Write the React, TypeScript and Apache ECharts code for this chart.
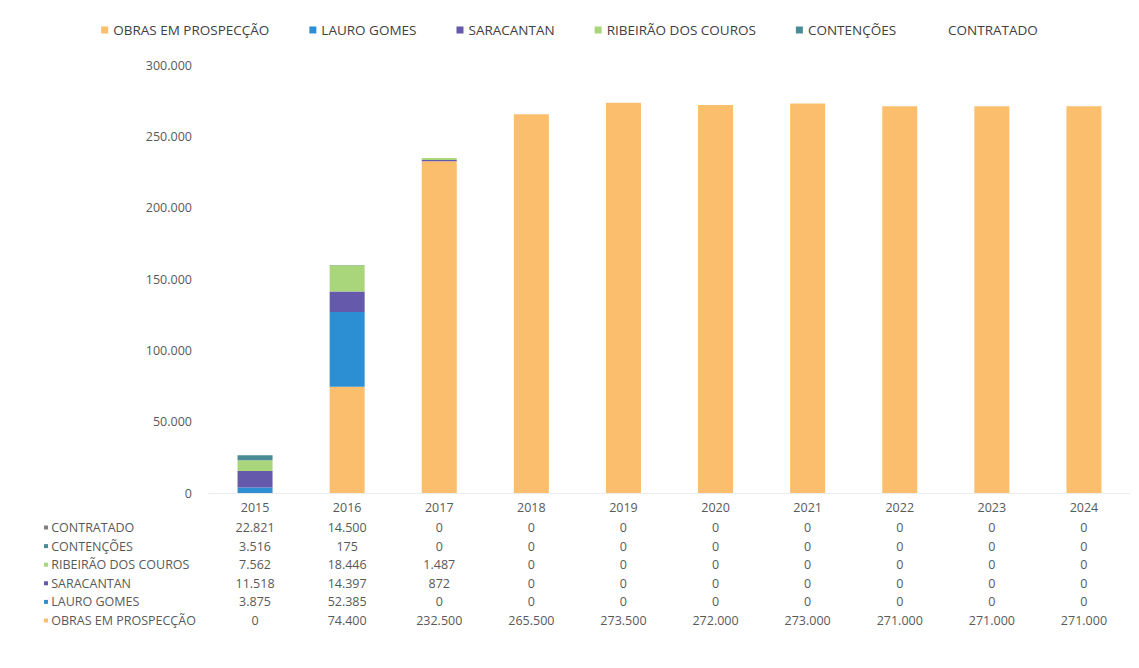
import React, { useEffect, useRef } from "react";
import * as echarts from "echarts";

const years = ["2015", "2016", "2017", "2018", "2019", "2020", "2021", "2022", "2023", "2024"];
const obrasEmProspeccao = [0, 74400, 232500, 265500, 273500, 272000, 273000, 271000, 271000, 271000];
const lauroGomes = [3875, 52385, 0, 0, 0, 0, 0, 0, 0, 0];
const saracantan = [11518, 14397, 872, 0, 0, 0, 0, 0, 0, 0];
const ribeiraoDosCouros = [7562, 18446, 1487, 0, 0, 0, 0, 0, 0, 0];
const contencoes = [3516, 175, 0, 0, 0, 0, 0, 0, 0, 0];
const contratado = [22821, 14500, 0, 0, 0, 0, 0, 0, 0, 0];
const yTicks = [0, 50000, 100000, 150000, 200000, 250000, 300000];

const seriesDefs = [
  { name: "OBRAS EM PROSPECÇÃO", data: obrasEmProspeccao, color: "#FBBE6C" },
  { name: "LAURO GOMES", data: lauroGomes, color: "#2D8FD3" },
  { name: "SARACANTAN", data: saracantan, color: "#6459AA" },
  { name: "RIBEIRÃO DOS COUROS", data: ribeiraoDosCouros, color: "#A9D57B" },
  { name: "CONTENÇÕES", data: contencoes, color: "#4A8C96" },
  { name: "CONTRATADO", data: contratado, color: "rgba(0,0,0,0)" },
];

// table rows, top to bottom
const tableRows = ["CONTRATADO", "CONTENÇÕES", "RIBEIRÃO DOS COUROS", "SARACANTAN", "LAURO GOMES", "OBRAS EM PROSPECÇÃO"];

const fmt = (n: number) => String(n).replace(/\B(?=(\d{3})+(?!\d))/g, ".");

const FONT = "'Open Sans', 'Noto Sans', sans-serif";
const TXT = "#595959";
const TFS = 12.5;

export default function App() {
  const ref = useRef<HTMLDivElement>(null);
  useEffect(() => {
    if (!ref.current) return;
    const chart = echarts.init(ref.current, undefined, { renderer: "svg" });
    const rowAxes = tableRows.map((rowName, i) => {
      const def = seriesDefs.find((s) => s.name === rowName)!;
      return {
        type: "category" as const,
        gridIndex: 0,
        position: "bottom" as const,
        offset: 21 + i * 18.6,
        data: def.data.map(fmt),
        axisLine: { show: false },
        axisTick: { show: false },
        axisLabel: { color: TXT, fontSize: TFS, fontFamily: FONT, margin: 7, interval: 0 },
        name: "{m|}" + " " + rowName,
        nameLocation: "start" as const,
        nameGap: 165,
        nameTextStyle: {
          color: TXT,
          fontSize: TFS,
          fontFamily: FONT,
          align: "left",
          verticalAlign: "top",
          padding: [7, 0, 0, 0],
          rich: {
            m: {
              width: 4,
              height: 4,
              backgroundColor: def.color === "rgba(0,0,0,0)" ? "#7f7f7f" : def.color,
            },
          },
        },
      };
    });
    chart.setOption({
      animation: false,
      textStyle: { fontFamily: FONT },
      legend: {
        top: 18,
        left: "center",
        itemWidth: 7,
        itemHeight: 7,
        itemGap: 40,
        icon: "rect",
        textStyle: { color: "#404040", fontSize: 13.5, fontFamily: FONT },
        data: seriesDefs.map((s) => s.name),
      },
      grid: { left: 209, right: 9, top: 65, bottom: 175, containLabel: false },
      xAxis: [
        {
          type: "category",
          data: years,
          axisLine: { show: true, lineStyle: { color: "#ececec" } },
          axisTick: { show: false },
          axisLabel: { color: TXT, fontSize: TFS, fontFamily: FONT, margin: 8 },
        },
        ...rowAxes,
      ],
      yAxis: {
        type: "value",
        min: yTicks[0],
        max: yTicks[yTicks.length - 1],
        interval: 50000,
        axisLine: { show: false },
        axisTick: { show: false },
        splitLine: { show: false },
        axisLabel: { color: TXT, fontSize: TFS, fontFamily: FONT, margin: 17, formatter: (v: number) => fmt(v) },
      },
      series: seriesDefs.map((s) => ({
        type: "bar",
        name: s.name,
        stack: "total",
        barWidth: 35,
        data: s.data,
        itemStyle: { color: s.color },
        emphasis: { disabled: true },
      })),
    });
    return () => chart.dispose();
  }, []);
  return <div ref={ref} style={{ position: "fixed", left: 0, top: 0, width: 1139, height: 668, background: "#fff" }} />;
}
